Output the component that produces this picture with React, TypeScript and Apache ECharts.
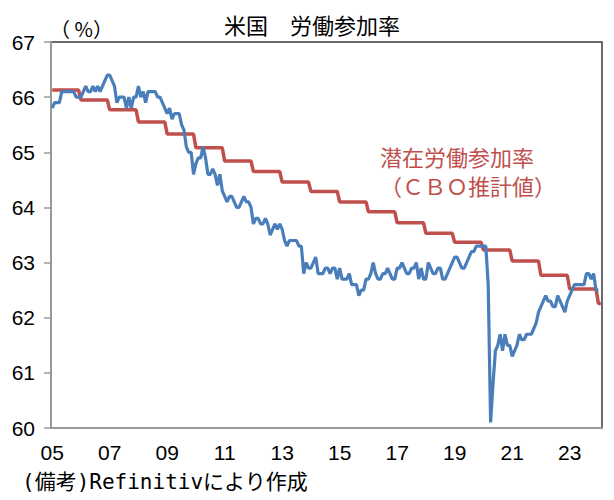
import React, { useEffect, useRef } from "react";
import * as echarts from "echarts";

// Monthly categories: Jan 2005 .. Feb 2024
const startYear = 2005;
const monthCount = 230;

// US labour force participation rate (%), monthly, Jan 2005 – Jan 2024
const lfpr2005 = [65.8, 65.9, 65.9, 65.9, 66.1, 66.1, 66.1, 66.1, 66.1, 66.1, 66.0, 66.0];
const lfpr2006 = [66.0, 66.1, 66.2, 66.1, 66.1, 66.2, 66.1, 66.2, 66.1, 66.2, 66.3, 66.4];
const lfpr2007 = [66.4, 66.3, 66.2, 65.9, 66.0, 66.0, 66.0, 65.8, 66.0, 65.8, 66.0, 66.0];
const lfpr2008 = [66.2, 66.0, 66.1, 65.9, 66.1, 66.1, 66.1, 66.1, 66.0, 66.0, 65.9, 65.8];
const lfpr2009 = [65.7, 65.8, 65.6, 65.7, 65.7, 65.7, 65.5, 65.4, 65.1, 65.0, 65.0, 64.6];
const lfpr2010 = [64.8, 64.9, 64.9, 65.1, 64.9, 64.6, 64.6, 64.7, 64.6, 64.4, 64.6, 64.3];
const lfpr2011 = [64.2, 64.1, 64.2, 64.2, 64.1, 64.0, 64.0, 64.1, 64.2, 64.1, 64.1, 64.0];
const lfpr2012 = [63.7, 63.8, 63.8, 63.7, 63.7, 63.8, 63.7, 63.5, 63.6, 63.7, 63.6, 63.7];
const lfpr2013 = [63.6, 63.4, 63.3, 63.4, 63.4, 63.4, 63.4, 63.3, 63.3, 62.8, 63.0, 62.9];
const lfpr2014 = [62.9, 63.0, 63.1, 62.8, 62.8, 62.8, 62.9, 62.9, 62.8, 62.9, 62.9, 62.7];
const lfpr2015 = [62.9, 62.7, 62.7, 62.7, 62.8, 62.6, 62.6, 62.6, 62.4, 62.5, 62.5, 62.7];
const lfpr2016 = [62.7, 62.8, 63.0, 62.8, 62.7, 62.7, 62.8, 62.8, 62.9, 62.8, 62.7, 62.7];
const lfpr2017 = [62.9, 62.9, 63.0, 62.9, 62.8, 62.8, 62.9, 62.9, 63.0, 62.7, 62.9, 62.7];
const lfpr2018 = [62.7, 63.0, 62.9, 62.8, 62.8, 62.9, 62.9, 62.7, 62.7, 62.8, 62.9, 63.0];
const lfpr2019 = [63.1, 63.1, 63.0, 62.9, 62.9, 63.0, 63.1, 63.2, 63.2, 63.3, 63.3, 63.3];
const lfpr2020 = [63.3, 63.3, 62.6, 60.1, 60.8, 61.4, 61.5, 61.7, 61.4, 61.7, 61.5, 61.5];
const lfpr2021 = [61.3, 61.4, 61.5, 61.7, 61.6, 61.6, 61.7, 61.7, 61.7, 61.8, 61.9, 62.1];
const lfpr2022 = [62.2, 62.3, 62.4, 62.3, 62.3, 62.2, 62.2, 62.4, 62.3, 62.2, 62.1, 62.3];
const lfpr2023 = [62.4, 62.5, 62.6, 62.6, 62.6, 62.6, 62.6, 62.8, 62.8, 62.7, 62.8, 62.5];
const lfpr2024 = [62.5];

// CBO potential labour force participation rate (%), annual 2005–2024
const cboAnnual = [
  66.13, 65.95, 65.77, 65.55, 65.33, 65.08, 64.84, 64.65, 64.46, 64.29,
  64.1, 63.92, 63.72, 63.53, 63.37, 63.23, 63.03, 62.77, 62.52, 62.26,
];

const yTicks = [60, 61, 62, 63, 64, 65, 66, 67];

const categories: string[] = [];
for (let i = 0; i < monthCount; i++) {
  const y = startYear + Math.floor(i / 12);
  const m = (i % 12) + 1;
  categories.push(`${y}-${m < 10 ? "0" + m : m}`);
}

const lfpr = [
  ...lfpr2005, ...lfpr2006, ...lfpr2007, ...lfpr2008, ...lfpr2009,
  ...lfpr2010, ...lfpr2011, ...lfpr2012, ...lfpr2013, ...lfpr2014,
  ...lfpr2015, ...lfpr2016, ...lfpr2017, ...lfpr2018, ...lfpr2019,
  ...lfpr2020, ...lfpr2021, ...lfpr2022, ...lfpr2023, ...lfpr2024,
];

const cboMonthly = categories.map((_, i) => cboAnnual[Math.floor(i / 12)]);

const JP = "'Noto Sans CJK JP', sans-serif";
const NUM = "'Liberation Sans', Arial, sans-serif";

export default function App() {
  const ref = useRef<HTMLDivElement>(null);

  useEffect(() => {
    if (!ref.current) return;
    const chart = echarts.init(ref.current, undefined, { renderer: "svg" });
    chart.setOption({
      animation: false,
      backgroundColor: "#ffffff",
      grid: {
        left: 51,
        right: 12,
        top: 42,
        bottom: 72,
        show: true,
        borderColor: "#3a3a3a",
        borderWidth: 1.5,
        backgroundColor: "transparent",
      },
      xAxis: {
        type: "category",
        data: categories,
        boundaryGap: true,
        axisLine: { show: true, lineStyle: { color: "#989898", width: 2 } },
        axisTick: { show: false },
        axisLabel: {
          interval: (index: number) => index % 24 === 0,
          formatter: (v: string) => v.slice(2, 4),
          color: "#000",
          fontSize: 21,
          fontFamily: NUM,
          margin: 14,
        },
        splitLine: { show: false },
      },
      yAxis: {
        type: "value",
        min: yTicks[0],
        max: yTicks[yTicks.length - 1],
        interval: 1,
        axisLine: { show: true, lineStyle: { color: "#989898", width: 2 } },
        axisTick: { show: true, inside: false, length: 7, lineStyle: { color: "#989898", width: 1.5 } },
        axisLabel: {
          color: "#000",
          fontSize: 21,
          fontFamily: NUM,
          margin: 16,
        },
        splitLine: { show: false },
      },
      series: [
        {
          name: "潜在労働参加率",
          type: "line",
          data: cboMonthly,
          showSymbol: false,
          symbol: "none",
          lineStyle: { color: "#C0504D", width: 3.5 },
          z: 2,
        },
        {
          name: "労働参加率",
          type: "line",
          data: lfpr,
          showSymbol: false,
          symbol: "none",
          lineStyle: { color: "#4A7EBB", width: 3.2 },
          z: 3,
        },
      ],
      graphic: [
        {
          type: "text",
          left: 224,
          top: 13,
          style: { text: "米国　労働参加率", fontSize: 22, fontFamily: JP, fill: "#000" },
        },
        {
          type: "text",
          left: 50,
          top: 18,
          style: { text: "（ %）", fontSize: 20, fontFamily: JP, fill: "#000" },
        },
        {
          type: "text",
          left: 380,
          top: 145,
          style: { text: "潜在労働参加率", fontSize: 22, fontFamily: JP, fill: "#C0504D" },
        },
        {
          type: "text",
          left: 380,
          top: 174,
          style: { text: "（ＣＢＯ推計値）", fontSize: 22, fontFamily: JP, fill: "#C0504D" },
        },
        {
          type: "text",
          left: 22,
          top: 471,
          style: {
            text: "(備考)Refinitivにより作成",
            fontSize: 21,
            fontFamily: "'DejaVu Sans Mono', 'Noto Sans CJK JP', monospace",
            fill: "#000",
          },
        },
      ],
    });
    return () => chart.dispose();
  }, []);

  return (
    <div
      ref={ref}
      style={{ position: "fixed", left: 0, top: 0, width: 614, height: 500 }}
    />
  );
}
